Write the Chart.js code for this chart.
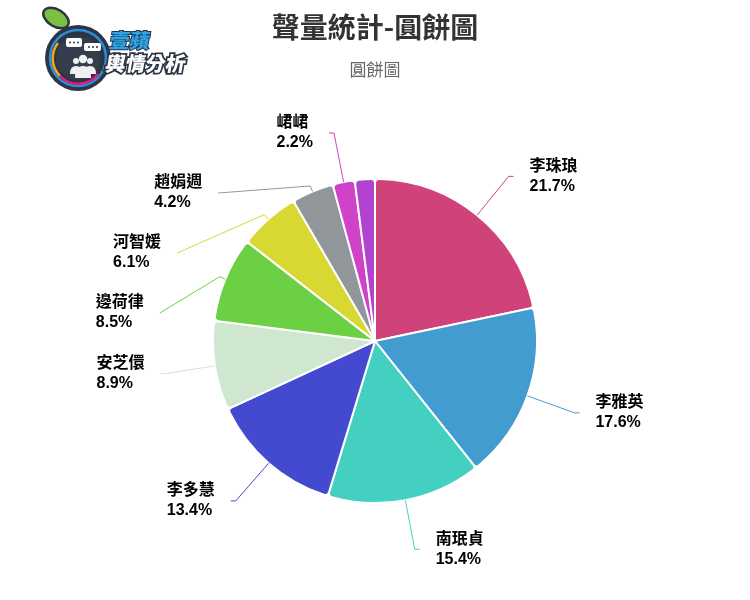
<!DOCTYPE html>
<html>
<head>
<meta charset="utf-8">
<script src="https://cdn.jsdelivr.net/npm/chart.js@4"></script>
<style>
	body { margin: 0; background: #fff; }
	#wrap { position: relative; width: 750px; height: 600px; }
	#logo { position: absolute; left: 0; top: 0; }
</style>
</head>
<body>
<div id="wrap">
	<canvas id="pieChart" width="750" height="600"></canvas>
	<svg id="logo" width="200" height="100" viewBox="0 0 200 100">
		<ellipse cx="56" cy="18" rx="14" ry="8.5" transform="rotate(32 56 18)" fill="#7ac143" stroke="#2b3544" stroke-width="2.5"/>
		<circle cx="78" cy="58" r="33" fill="#2b3544"/>
		<circle cx="78" cy="58" r="28" fill="none" stroke="#2a8fd6" stroke-width="2.5"/>
		<path d="M 58 43 A 25 25 0 0 0 60 76" fill="none" stroke="#f2a81d" stroke-width="2.5"/>
		<path d="M 60 76 A 25 25 0 0 0 98 74" fill="none" stroke="#e8197d" stroke-width="2.5"/>
		<circle cx="78" cy="58" r="22" fill="#333d4b"/>
		<rect x="66" y="38" width="16" height="9" rx="2" fill="#fff"/>
		<rect x="84" y="43" width="17" height="8" rx="2" fill="#fff"/>
		<g fill="#2b3544">
			<circle cx="70" cy="42.5" r="1"/><circle cx="74" cy="42.5" r="1"/><circle cx="78" cy="42.5" r="1"/>
			<circle cx="89" cy="47" r="1"/><circle cx="93" cy="47" r="1"/><circle cx="97" cy="47" r="1"/>
		</g>
		<g fill="#f0f0f0">
			<circle cx="76" cy="61" r="3"/><circle cx="90" cy="61" r="3"/>
			<path d="M 70 74 q 0 -8 6 -8 q 6 0 6 8 z"/>
			<path d="M 84 74 q 0 -8 6 -8 q 6 0 6 8 z"/>
			<circle cx="83" cy="59" r="4.2"/>
			<path d="M 75 78 q 0 -12 8 -12 q 8 0 8 12 z"/>
		</g>
		<g transform="skewX(-10)">
			<text x="117" y="48" font-family="Noto Sans CJK TC" font-weight="900" font-size="20" fill="#2ba3e6" stroke="#2b3544" stroke-width="2" paint-order="stroke">壹蘋</text>
			<text x="117" y="71" font-family="Noto Sans CJK TC" font-weight="900" font-size="20" fill="#ffffff" stroke="#2b3544" stroke-width="3.5" paint-order="stroke">輿情分析</text>
		</g>
	</svg>
</div>
<script>
// slices, clockwise from 12 o'clock (percent of total)
const names = ['李珠琅', '李雅英', '南珉貞', '李多慧', '安芝儇', '邊荷律', '河智媛', '趙娟週', '峮峮', ''];
const shares = [21.7, 17.6, 15.4, 13.4, 8.9, 8.5, 6.1, 4.2, 2.2, 2.0];
const colors = [
	'#d0437a', '#439cd0', '#43d0c0', '#434ad0', '#cfe6cf',
	'#6bd043', '#d8d832', '#91969b', '#d043c8', '#b243d0'
];

const labelFont = 'bold 16px "Liberation Sans", "Noto Sans CJK TC", sans-serif';

// outside labels with crooked connectors
const pieLabels = {
	id: 'pieLabels',
	afterDatasetsDraw(chart) {
		const ctx = chart.ctx;
		const meta = chart.getDatasetMeta(0);
		const dist = 50, breakOff = 6, slot = 60, gap = 16;
		let items = [];
		meta.data.forEach((arc, i) => {
			if (!names[i]) return; // no label for this slice in the original
			const p = arc.getProps(['x', 'y', 'startAngle', 'endAngle', 'outerRadius'], true);
			const a = (p.startAngle + p.endAngle) / 2;
			const r = p.outerRadius;
			items.push({
				i: i, a: a, cx: p.x, cy: p.y, r: r,
				right: Math.cos(a) >= 0,
				y: p.y + (r + dist) * Math.sin(a),
				touch: { x: p.x + r * Math.cos(a), y: p.y + r * Math.sin(a) },
				brk: { x: p.x + (r + breakOff) * Math.cos(a), y: p.y + (r + breakOff) * Math.sin(a) }
			});
		});
		[true, false].forEach(side => {
			const list = items.filter(it => it.right === side).sort((m, n) => m.y - n.y);
			for (let k = 1; k < list.length; k++) {
				if (list[k].y < list[k - 1].y + slot) list[k].y = list[k - 1].y + slot;
			}
		});
		ctx.save();
		ctx.font = labelFont;
		items.forEach(it => {
			const R = it.r + dist;
			const dy = Math.max(-R, Math.min(R, it.y - it.cy));
			const off = Math.sqrt(R * R - dy * dy) + 5;
			const x = it.right ? it.cx + off : it.cx - off;
			const crookX = it.cx + (it.cy - it.y) * Math.tan(it.a - Math.PI / 2);
			ctx.beginPath();
			ctx.moveTo(x, it.y);
			const useCrook = it.right ? (crookX <= x && crookX >= it.brk.x) : (crookX >= x && crookX <= it.brk.x);
			if (useCrook) ctx.lineTo(crookX, it.y);
			ctx.lineTo(it.brk.x, it.brk.y);
			ctx.lineTo(it.touch.x, it.touch.y);
			ctx.strokeStyle = colors[it.i];
			ctx.lineWidth = 1;
			ctx.stroke();

			const line1 = names[it.i];
			const line2 = shares[it.i].toFixed(1) + '%';
			const w = Math.max(ctx.measureText(line1).width, ctx.measureText(line2).width);
			const tx = it.right ? x + gap : x - gap - w;
			ctx.fillStyle = '#000';
			ctx.textBaseline = 'middle';
			ctx.textAlign = 'left';
			ctx.fillText(line1, tx, it.y - 10);
			ctx.fillText(line2, tx, it.y + 10);
		});
		ctx.restore();
	}
};

const pieCtx = document.getElementById('pieChart').getContext('2d');
new Chart(pieCtx, {
	type: 'pie',
	data: {
		labels: names,
		datasets: [{
			data: shares,
			backgroundColor: colors,
			borderColor: '#ffffff',
			borderWidth: 2,
			borderRadius: 4
		}]
	},
	options: {
		responsive: false,
		maintainAspectRatio: false,
		animation: false,
		radius: 162,
		layout: {
			padding: { top: 0, bottom: 18, left: 0, right: 0 }
		},
		plugins: {
			legend: { display: false },
			tooltip: { enabled: false },
			title: {
				display: true,
				text: '聲量統計-圓餅圖',
				color: '#333333',
				font: { family: '"Noto Sans CJK TC", sans-serif', size: 28, weight: 'bold', lineHeight: 1.2 },
				padding: { top: 11, bottom: 15 }
			},
			subtitle: {
				display: true,
				text: '圓餅圖',
				color: '#666666',
				font: { family: '"Noto Sans CJK TC", sans-serif', size: 17, lineHeight: 1.2 },
				padding: { top: 0, bottom: 20 }
			}
		}
	},
	plugins: [pieLabels]
});
</script>
</body>
</html>
